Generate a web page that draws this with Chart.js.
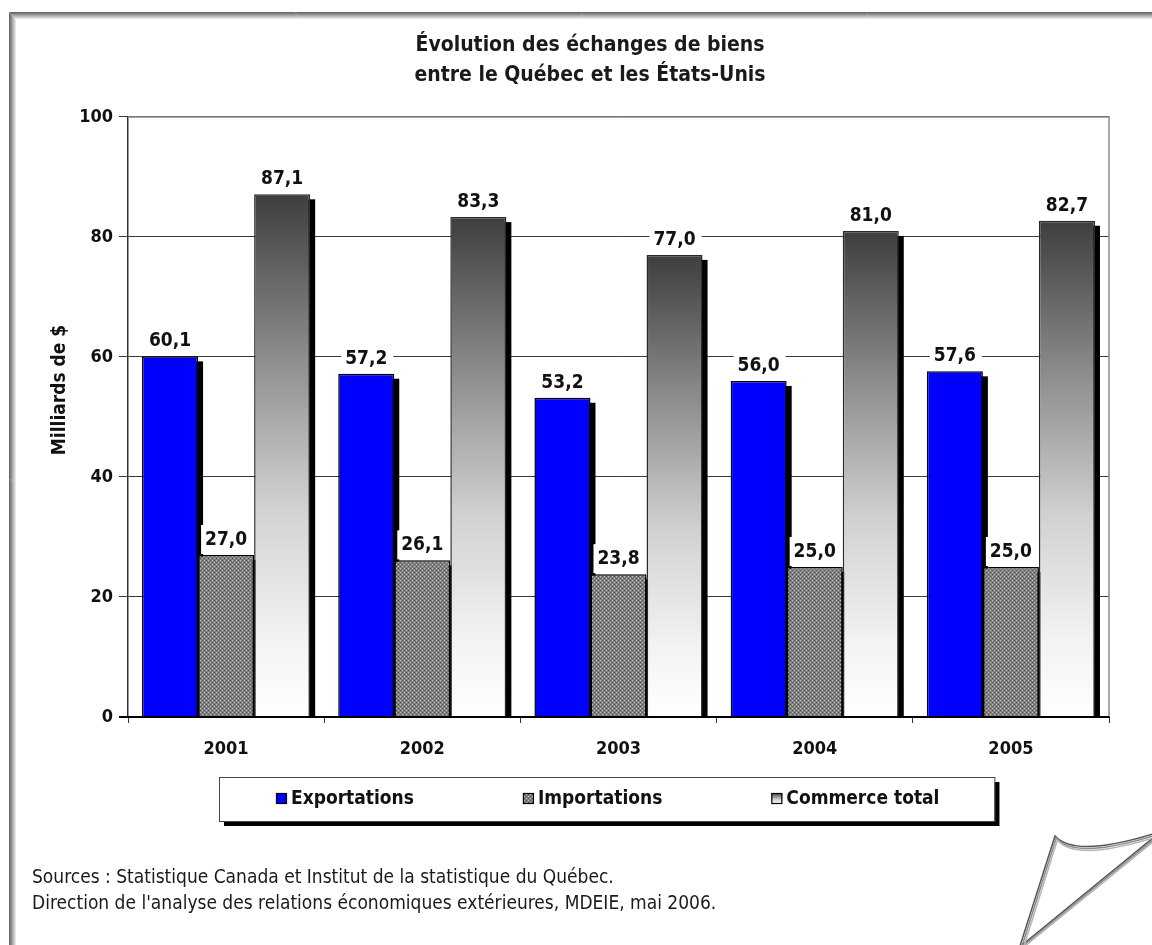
<!DOCTYPE html>
<html lang="fr">
<head>
<meta charset="utf-8">
<title>Évolution des échanges de biens entre le Québec et les États-Unis</title>
<script src="https://cdn.jsdelivr.net/npm/chart.js@4.4.1/dist/chart.umd.min.js"></script>
<style>
  html, body { margin: 0; padding: 0; background: #fff; }
  #wrap { position: relative; width: 1152px; height: 945px; }
</style>
</head>
<body>
<div id="wrap"><canvas id="chart" width="1152" height="945"></canvas></div>
<script>
const years = ['2001', '2002', '2003', '2004', '2005'];
const exportations = [60.1, 57.2, 53.2, 56.0, 57.6];
const importations = [27.0, 26.1, 23.8, 25.0, 25.0];
const commerceTotal = [87.1, 83.3, 77.0, 81.0, 82.7];
const seriesNames = ['Exportations', 'Importations', 'Commerce total'];
const yTicks = [0, 20, 40, 60, 80, 100];
const titleLines = ['Évolution des échanges de biens', 'entre le Québec et les États-Unis'];
const yAxisTitle = 'Milliards de $';
const sourceLines = [
  'Sources : Statistique Canada et Institut de la statistique du Québec.',
  "Direction de l'analyse des relations économiques extérieures, MDEIE, mai 2006."
];

const NARROW = "'Liberation Sans Narrow', 'Arial Narrow', 'DejaVu Sans Condensed', sans-serif";
const canvas = document.getElementById('chart');
const ctx0 = canvas.getContext('2d');

// stipple used by the Importations bars
function dotPattern() {
  const c = document.createElement('canvas');
  c.width = 4; c.height = 4;
  const g = c.getContext('2d');
  g.fillStyle = '#7e7e7e'; g.fillRect(0, 0, 4, 4);
  g.fillStyle = '#c4c4c4'; g.fillRect(0, 0, 1, 1); g.fillRect(2, 2, 1, 1);
  g.fillStyle = '#555555'; g.fillRect(2, 0, 1, 1); g.fillRect(0, 2, 1, 1);
  return ctx0.createPattern(c, 'repeat');
}
const dots = dotPattern();

function greyRamp(ctx, top, bottom) {
  const g = ctx.createLinearGradient(0, top, 0, bottom);
  g.addColorStop(0, '#3e3e3e');
  g.addColorStop(0.3, '#8a8a8a');
  g.addColorStop(0.6, '#d2d2d2');
  g.addColorStop(0.85, '#f3f3f3');
  g.addColorStop(1, '#ffffff');
  return g;
}

const fmt = v => v.toFixed(1).replace('.', ',');

const decor = {
  id: 'decor',
  beforeDraw(chart) {
    const c = chart.ctx;
    c.save();
    c.fillStyle = '#fff';
    c.fillRect(0, 0, chart.width, chart.height);
    // page frame, cut by the right and bottom edges
    const shades = ['#6a6a6a', '#7d7d7d', '#929292', '#a8a8a8', '#bdbdbd', '#d2d2d2', '#e6e6e6'];
    shades.forEach((s, i) => {
      c.strokeStyle = s;
      c.lineWidth = 1;
      c.beginPath();
      c.moveTo(9.5 + i, chart.height + 10);
      c.lineTo(9.5 + i, 12.5 + i);
      c.lineTo(chart.width + 10, 12.5 + i);
      c.stroke();
    });
    c.restore();
  },
  beforeDatasetsDraw(chart) {
    const a = chart.chartArea;
    const c = chart.ctx;
    c.save();
    c.strokeStyle = '#8c8c8c';
    c.lineWidth = 1.5;
    c.beginPath();
    c.moveTo(a.left, a.top);
    c.lineTo(a.right, a.top);
    c.lineTo(a.right, a.bottom);
    c.stroke();
    // black drop shadows, painted before any bar so neighbours cover them
    c.beginPath();
    c.rect(a.left, a.top, a.right - a.left, a.bottom - a.top);
    c.clip();
    c.fillStyle = '#000';
    chart.data.datasets.forEach((ds, i) => {
      chart.getDatasetMeta(i).data.forEach(bar => {
        const t = Math.min(bar.y, bar.base);
        c.fillRect(bar.x - bar.width / 2 + 5, t + 5, bar.width, Math.abs(bar.base - bar.y));
      });
    });
    c.restore();
  },
  afterDatasetsDraw(chart) {
    const a = chart.chartArea;
    const c = chart.ctx;
    c.save();
    c.strokeStyle = '#000';
    c.lineWidth = 2;
    c.beginPath();
    c.moveTo(a.left - 9, a.bottom);
    c.lineTo(a.right, a.bottom);
    c.stroke();

    // value labels above the bars
    c.font = 'bold 19px ' + NARROW;
    c.textAlign = 'center';
    c.textBaseline = 'alphabetic';
    chart.data.datasets.forEach((ds, i) => {
      chart.getDatasetMeta(i).data.forEach((bar, j) => {
        const base = bar.y - 10;
        c.fillStyle = '#fff';
        c.fillRect(bar.x - bar.width / 2 + 3, base - 20, bar.width - 4, bar.y - base + 19);
        c.fillStyle = '#111';
        c.fillText(fmt(ds.data[j]), bar.x, base);
      });
    });
    c.restore();
  },
  afterDraw(chart) {
    const c = chart.ctx;
    const a = chart.chartArea;
    c.save();

    // y axis title
    c.translate(60, (a.top + a.bottom) / 2 - 27);
    c.rotate(-Math.PI / 2);
    c.font = 'bold 19px ' + NARROW;
    c.fillStyle = '#111';
    c.textAlign = 'center';
    c.textBaseline = 'middle';
    c.fillText(yAxisTitle, 0, 0);
    c.setTransform(1, 0, 0, 1, 0, 0);

    // legend box
    c.font = 'bold 19px ' + NARROW;
    const sw = 11, gapText = 4, gapItem = 109;
    const widths = seriesNames.map(n => c.measureText(n).width);
    const total = widths.reduce((s, w) => s + sw + gapText + w, 0) + gapItem * (seriesNames.length - 1);
    const cx = (a.left + a.right) / 2 - 11;
    const startX = Math.round(cx - total / 2);
    const top = Math.round(chart.scales.x.bottom + 10);
    const h = 44;
    const fl = startX - 57, fr = startX + total + 55;
    c.fillStyle = '#000';
    c.fillRect(fl + 5, top + 5, fr - fl, h);
    c.fillStyle = '#fff';
    c.fillRect(fl, top, fr - fl, h);
    c.strokeStyle = '#444';
    c.lineWidth = 1;
    c.strokeRect(fl + 0.5, top + 0.5, fr - fl, h);
    const my = top + h / 2;
    let x = startX;
    seriesNames.forEach((name, i) => {
      const sy = Math.round(my - sw / 2) - 1;
      if (i === 0) c.fillStyle = '#0000ff';
      else if (i === 1) c.fillStyle = dots;
      else c.fillStyle = greyRamp(c, sy, sy + sw);
      c.fillRect(x, sy, sw, sw);
      c.strokeStyle = '#000';
      c.lineWidth = 1.2;
      c.strokeRect(x + 0.5, sy + 0.5, sw - 1, sw - 1);
      c.fillStyle = '#111';
      c.textAlign = 'left';
      c.textBaseline = 'middle';
      c.fillText(name, x + sw + gapText, my);
      x += sw + gapText + widths[i] + gapItem;
    });

    // sources
    c.font = '19px ' + NARROW;
    c.fillStyle = '#1a1a1a';
    c.textAlign = 'left';
    c.textBaseline = 'alphabetic';
    c.fillText(sourceLines[0], 32, 883);
    c.fillText(sourceLines[1], 32, 909);

    // curled page corner
    const curl = [['#555', 0], ['#8a8a8a', 2], ['#b5b5b5', 4]];
    curl.forEach(([col, o]) => {
      c.strokeStyle = col;
      c.lineWidth = 1.5;
      c.beginPath();
      c.moveTo(1020 + o, 946);
      c.lineTo(1055 + o * 0.6, 836 + o);
      c.quadraticCurveTo(1075, 858 + o, 1153, 834 + o);
      c.stroke();
      c.beginPath();
      c.moveTo(1021 + o, 946);
      c.lineTo(1153, 838 + o);
      c.stroke();
    });
    c.restore();
  }
};

new Chart(ctx0, {
  type: 'bar',
  data: {
    labels: years,
    datasets: [
      {
        label: seriesNames[0],
        data: exportations,
        backgroundColor: '#0000ff',
        borderColor: '#000',
        borderWidth: 1.5
      },
      {
        label: seriesNames[1],
        data: importations,
        backgroundColor: dots,
        borderColor: '#000',
        borderWidth: 1.5
      },
      {
        label: seriesNames[2],
        data: commerceTotal,
        backgroundColor: (ctx) => {
          const chart = ctx.chart;
          if (!chart.chartArea || ctx.type !== 'data') return '#888';
          const y = chart.scales.y;
          return greyRamp(chart.ctx, y.getPixelForValue(ctx.parsed.y), y.getPixelForValue(0));
        },
        borderColor: '#2a2a2a',
        borderWidth: 1.5
      }
    ]
  },
  options: {
    responsive: false,
    animation: false,
    devicePixelRatio: 1,
    categoryPercentage: 0.857,
    barPercentage: 1,
    layout: { padding: { left: 71, right: 43, top: 0, bottom: 178 } },
    plugins: {
      legend: { display: false },
      tooltip: { enabled: false },
      title: {
        display: true,
        text: titleLines,
        color: '#1a1a1a',
        font: { family: NARROW, size: 21, weight: 'bold', lineHeight: 1.45 },
        padding: { top: 30, bottom: 26 }
      }
    },
    scales: {
      x: {
        afterFit: s => { s.height = 50; },
        grid: { offset: true, drawOnChartArea: false, tickLength: 6, color: '#333' },
        border: { color: '#000', width: 2 },
        ticks: { color: '#111', padding: 16, font: { family: NARROW, size: 18, weight: 'bold' } }
      },
      y: {
        min: yTicks[0],
        max: yTicks[yTicks.length - 1],
        afterFit: s => { s.width = 128 - 71; },
        afterBuildTicks: s => { s.ticks = yTicks.map(v => ({ value: v })); },
        grid: { color: '#3a3a3a', lineWidth: 1, tickLength: 9, tickColor: '#3a3a3a' },
        border: { color: '#333', width: 1.5 },
        ticks: { color: '#111', padding: 6, font: { family: NARROW, size: 18, weight: 'bold' } }
      }
    }
  },
  plugins: [decor]
});
</script>
</body>
</html>
